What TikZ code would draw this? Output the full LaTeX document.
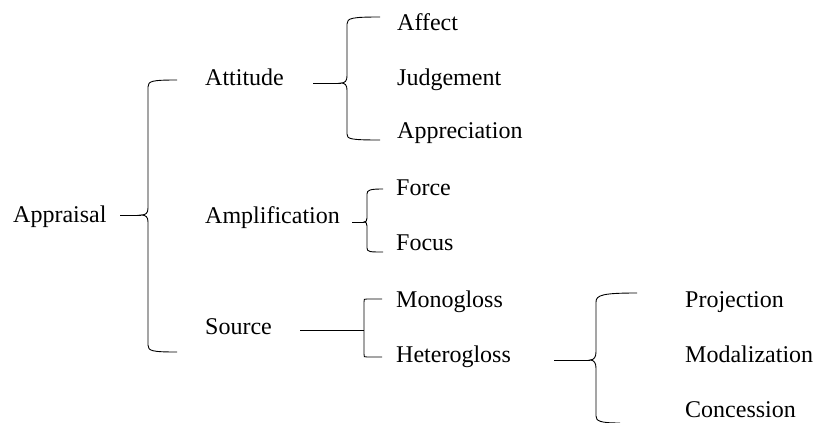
\documentclass[tikz,border=0pt]{standalone}
\usepackage{fontspec}
\setmainfont{Liberation Serif}
\begin{document}
\begin{tikzpicture}[x=1pt,y=-1pt,
  lbl/.style={anchor=base west,inner sep=0pt,font=\fontsize{24}{28}\selectfont},
  br/.style={draw=black,line width=0.9pt}]
\useasboundingbox (0,0) rectangle (814,423);
% labels
\node[lbl] (appraisal) at (13,222) {Appraisal};
\node[lbl] (attitude) at (205,85) {Attitude};
\node[lbl] (amplification) at (205,223) {Amplification};
\node[lbl] (source) at (205,334) {Source};
\node[lbl] (affect) at (397,30) {Affect};
\node[lbl] (judgement) at (397,85) {Judgement};
\node[lbl] (appreciation) at (397,138) {Appreciation};
\node[lbl] (force) at (396,195) {Force};
\node[lbl] (focus) at (396,250) {Focus};
\node[lbl] (monogloss) at (396,307) {Monogloss};
\node[lbl] (heterogloss) at (396,362) {Heterogloss};
\node[lbl] (projection) at (685,307) {Projection};
\node[lbl] (modalization) at (685,362) {Modalization};
\node[lbl] (concession) at (685,417) {Concession};
% brace 1 (Appraisal)
\coordinate (s1) at (120,215);
\coordinate (t1) at (141,215);
\draw[br] (s1) -- (t1);
\draw[br] (177,80) .. controls (152,80) and (148,81) .. (148,87) -- (148,208)
  .. controls (148,213) and (146,215) .. (t1)
  .. controls (146,215) and (148,217) .. (148,222) -- (148,345)
  .. controls (148,351) and (152,352) .. (177,352);
% brace 2 (Attitude)
\coordinate (s2) at (313,83);
\coordinate (t2) at (341,83);
\draw[br] (s2) -- (t2);
\draw[br] (380,17) .. controls (352,17) and (347,18) .. (347,24) -- (347,76)
  .. controls (347,81) and (345,83) .. (t2)
  .. controls (345,83) and (347,85) .. (347,90) -- (347,134)
  .. controls (347,139) and (350,140) .. (380,140);
% brace 3 (Amplification)
\coordinate (s3) at (352,222);
\coordinate (t3) at (364,222);
\draw[br] (s3) -- (t3);
\draw[br] (383,189) .. controls (370,189) and (367,190) .. (367,194) -- (367,218)
  .. controls (367,221) and (366,222) .. (t3)
  .. controls (366,222) and (367,223) .. (367,226) -- (367,248)
  .. controls (367,252) and (370,252) .. (383,252);
% bracket 4 (Source)
\coordinate (s4) at (300,330);
\coordinate (t4) at (364,330);
\draw[br] (s4) -- (t4);
\draw[br] (382,299) -- (367,299) .. controls (364,299) .. (364,302) -- (364,354)
  .. controls (364,357) .. (367,357) -- (382,357);
% brace 5 (Heterogloss)
\coordinate (s5) at (554,360);
\coordinate (t5) at (590,360);
\draw[br] (s5) -- (t5);
\draw[br] (637,293) .. controls (603,293) and (596,295) .. (596,302) -- (596,352)
  .. controls (596,357) and (594,360) .. (t5)
  .. controls (594,360) and (596,363) .. (596,368) -- (596,416)
  .. controls (596,421) and (600,423) .. (620,423);
\end{tikzpicture}
\end{document}
